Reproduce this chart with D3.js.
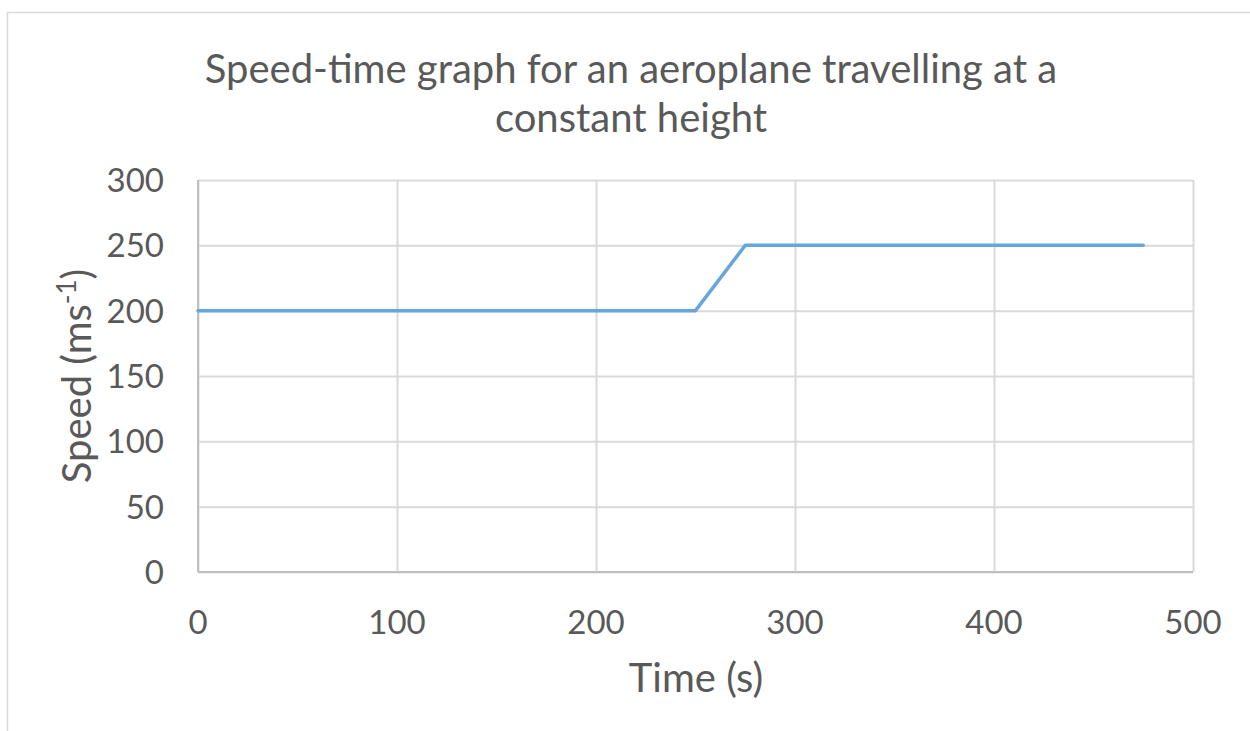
<!DOCTYPE html>
<html>
<head>
<meta charset="utf-8">
<script src="https://cdn.jsdelivr.net/npm/d3@7"></script>
<style>
  body { margin: 0; background: #fff; }
  text { font-family: Lato, "Open Sans", sans-serif; fill: #595959; }
</style>
</head>
<body>
<svg id="chart"></svg>
<script>
// data
var times = [0, 250, 275, 475];
var speeds = [200, 200, 250, 250];
var xTicks = [0, 100, 200, 300, 400, 500];
var yTicks = [0, 50, 100, 150, 200, 250, 300];
var titleLines = ["Speed-time graph for an aeroplane travelling at a", "constant height"];

var screen = {width: 1250, height: 731};
var plot = {left: 198, right: 1193, top: 180, bottom: 572};

var svg = d3.select("#chart")
    .attr("width", screen.width)
    .attr("height", screen.height);

// outer chart border (only top and left show)
svg.append("rect")
    .attr("x", 7.5)
    .attr("y", 12.5)
    .attr("width", 1300)
    .attr("height", 800)
    .attr("fill", "none")
    .attr("stroke", "#d9d9d9")
    .attr("stroke-width", 1.5);

var xScale = d3.scaleLinear().domain([0, 500]).range([plot.left, plot.right]);
var yScale = d3.scaleLinear().domain([0, 300]).range([plot.bottom, plot.top]);

// grid
var gx = svg.append("g")
    .attr("transform", "translate(0," + plot.bottom + ")")
    .call(d3.axisBottom(xScale).tickValues(xTicks).tickSize(-(plot.bottom - plot.top)).tickFormat(""));
var gy = svg.append("g")
    .attr("transform", "translate(" + plot.left + ",0)")
    .call(d3.axisLeft(yScale).tickValues(yTicks).tickSize(-(plot.right - plot.left)).tickFormat(""));
gx.select(".domain").remove();
gy.select(".domain").remove();
svg.selectAll(".tick line").attr("stroke", "#d9d9d9").attr("stroke-width", 2);

// axis lines
svg.append("line")
    .attr("x1", plot.left).attr("x2", plot.right)
    .attr("y1", plot.bottom).attr("y2", plot.bottom)
    .attr("stroke", "#bfbfbf").attr("stroke-width", 2);
svg.append("line")
    .attr("x1", plot.left).attr("x2", plot.left)
    .attr("y1", plot.top).attr("y2", plot.bottom)
    .attr("stroke", "#bfbfbf").attr("stroke-width", 2);

// tick labels
svg.selectAll(".xlab")
    .data(xTicks)
    .enter()
    .append("text")
    .attr("class", "xlab")
    .attr("x", function(d){return xScale(d)})
    .attr("y", 634)
    .attr("text-anchor", "middle")
    .style("font-size", "33px")
    .text(function(d){return d});

svg.selectAll(".ylab")
    .data(yTicks)
    .enter()
    .append("text")
    .attr("class", "ylab")
    .attr("x", 164)
    .attr("y", function(d){return yScale(d) + 12})
    .attr("text-anchor", "end")
    .style("font-size", "33px")
    .text(function(d){return d});

// series
var points = times.map(function(t, i){ return {x: t, y: speeds[i]} });
var line = d3.line()
    .x(function(p){return xScale(p.x)})
    .y(function(p){return yScale(p.y)});
svg.append("path")
    .datum(points)
    .attr("d", line)
    .attr("fill", "none")
    .attr("stroke", "#65a6dc")
    .attr("stroke-width", 3.5)
    .attr("stroke-linejoin", "round")
    .attr("stroke-linecap", "round");

// title
svg.selectAll(".title")
    .data(titleLines)
    .enter()
    .append("text")
    .attr("class", "title")
    .attr("x", 631)
    .attr("y", function(d, i){return 83 + i * 49})
    .attr("text-anchor", "middle")
    .style("font-size", "40px")
    .text(function(d){return d});

// axis titles
svg.append("text")
    .attr("x", 696)
    .attr("y", 692)
    .attr("text-anchor", "middle")
    .style("font-size", "40px")
    .text("Time (s)");

var yt = svg.append("text")
    .attr("transform", "translate(91,376) rotate(-90)")
    .attr("text-anchor", "middle")
    .style("font-size", "40px");
yt.append("tspan").text("Speed (ms");
yt.append("tspan").attr("dy", -15).style("font-size", "26px").text("-1");
yt.append("tspan").attr("dy", 15).text(")");
</script>
</body>
</html>
